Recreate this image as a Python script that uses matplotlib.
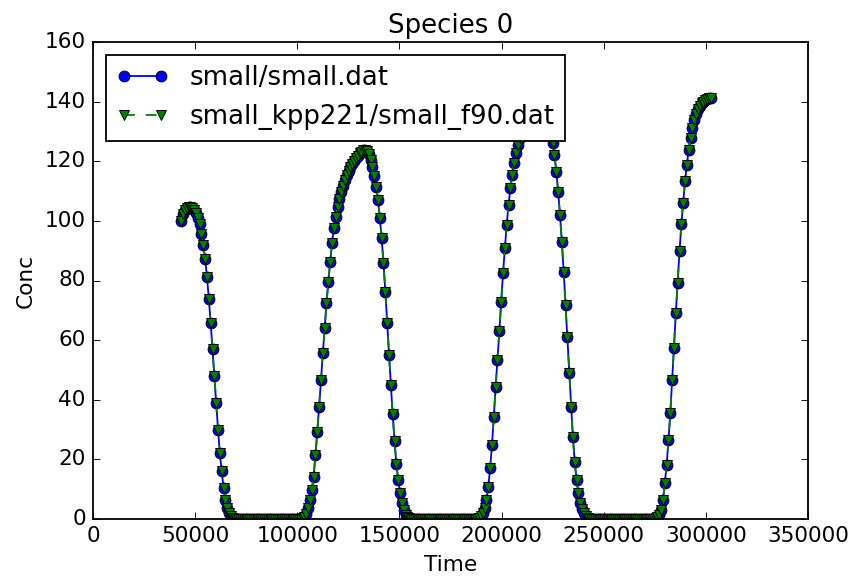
import matplotlib
matplotlib.use('Agg')
import matplotlib.pyplot as plt
import numpy as np

# output every 900 s, from noon of day 1 (43200 s) to noon of day 4 (302400 s)
time = np.arange(43200, 302401, 900)

day1 = [100.0, 102.3, 103.6, 104.3, 104.6, 104.6, 104.3, 103.7, 102.7, 101.1,
        98.8, 95.7, 91.8, 87.2, 81.2, 73.8, 65.7, 57.0, 48.0, 39.0,
        30.0, 22.0, 16.0, 10.3, 6.4, 3.6, 1.9, 0.9, 0.35, 0.1]
night1 = [0, 0, 0, 0, 0, 0, 0, 0, 0, 0, 0, 0,
          0, 0, 0, 0, 0, 0, 0, 0, 0, 0, 0, 0,
          0, 0, 0, 0, 0, 0, 0, 0, 0, 0, 0, 0]
day2 = [0.2, 0.7, 1.8, 3.6, 6.4, 9.7, 14.2, 21.5, 29.3, 37.7,
        46.6, 55.6, 64.0, 72.4, 79.6, 86.3, 92.5, 97.5, 101.4, 104.8,
        107.3, 109.6, 111.7, 113.6, 115.3, 116.8, 118.1, 119.2, 120.2, 121.1,
        121.9, 122.6, 123.2, 123.7, 123.9, 123.5, 122.3, 120.5, 118.2, 114.9,
        111.5, 107.0, 100.9, 94.2, 85.8, 76.3, 65.7, 55.0, 45.0, 35.1,
        26.2, 18.4, 13.1, 8.6, 5.3, 3.0, 1.5, 0.6, 0.2, 0.05]
night2 = [0, 0, 0, 0, 0, 0, 0, 0, 0, 0, 0, 0,
          0, 0, 0, 0, 0, 0, 0, 0, 0, 0, 0, 0,
          0, 0, 0, 0, 0, 0, 0, 0, 0, 0, 0, 0]
day3 = [0.3, 0.9, 2.0, 3.8, 6.4, 10.8, 17.0, 24.8, 34.3, 44.4,
        53.4, 62.9, 72.9, 82.4, 90.8, 98.7, 105.4, 111.0, 115.4, 119.4,
        122.7, 125.5, 127.8, 129.6, 131.0, 132.1, 133.0, 133.6, 134.0, 134.2,
        134.3, 134.3, 134.1, 133.8, 133.4, 132.9, 132.3, 131.6, 130.7, 129.5,
        126.0, 122.1, 116.5, 109.8, 102.0, 93.0, 83.0, 71.8, 61.2, 48.9,
        37.7, 27.6, 19.2, 13.1, 8.6, 5.5, 3.4, 2.0, 1.0, 0.4,
        0.15, 0.05]
night3 = [0, 0, 0, 0, 0, 0, 0, 0, 0, 0, 0, 0,
          0, 0, 0, 0, 0, 0, 0, 0, 0, 0, 0, 0,
          0, 0, 0, 0, 0, 0, 0, 0, 0, 0]
day4 = [0.3, 0.8, 1.5, 3.0, 6.4, 12.0, 18.1, 26.5, 35.5, 46.6,
        57.3, 69.0, 79.2, 89.8, 98.8, 106.0, 113.3, 118.9, 123.9, 127.9,
        131.2, 134.0, 136.0, 137.5, 138.6, 139.4, 140.0, 140.5, 140.9, 141.1,
        141.3]

conc_small = day1 + night1 + day2 + night2 + day3 + night3 + day4
# the f90 run lies on top of the reference run at this scale
conc_f90 = list(conc_small)

plt.style.use('classic')

dpi = 130
fig = plt.figure(figsize=(849 / dpi, 584 / dpi))
ax = fig.add_axes([93 / 849, 65 / 584, 715 / 849, 477 / 584])
ax.plot(time, conc_small, 'bo-', markeredgecolor='k', markeredgewidth=0.5,
        label='small/small.dat')
ax.plot(time, conc_f90, 'gv--', markeredgecolor='k', markeredgewidth=0.5,
        label='small_kpp221/small_f90.dat')
ax.set_xlim(0, 350000)
ax.set_ylim(0, 160)
ax.set_xlabel('Time')
ax.set_ylabel('Conc')
ax.set_title('Species 0')
ax.legend(loc='upper left')

fig.savefig('out.png', dpi=dpi, facecolor='white')
